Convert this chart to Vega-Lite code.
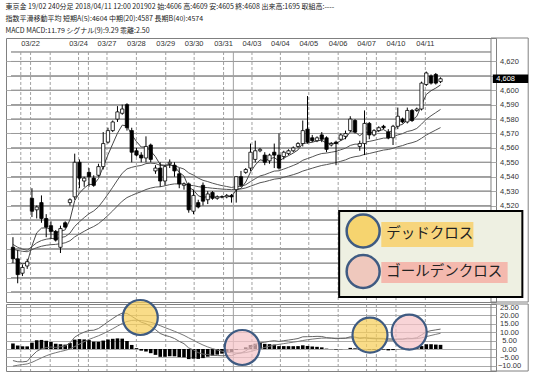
{
"$schema":"https://vega.github.io/schema/vega-lite/v6.json",
"padding":{"left":5,"top":3,"right":0,"bottom":0},
"background":"white",
"bounds":"flush",
"title":{"text":["東京金 19/02 240分足 2018/04/11 12:00 201902 始:4606 高:4609 安:4605 終:4608 出来高:1695 取組高:----","指数平滑移動平均 短期A(5):4604 中期(20):4587 長期B(40):4574","MACD MACD:11.79 シグナル(9):9.29 乖離:2.50"],"anchor":"start","fontSize":7.0,"lineHeight":12,"font":"Noto Sans CJK JP","fontWeight":"normal","color":"#222","offset":3},
"datasets":{
"levels":[{"v":4460},{"v":4470},{"v":4480},{"v":4490},{"v":4500},{"v":4510},{"v":4520},{"v":4530},{"v":4540},{"v":4550},{"v":4560},{"v":4570},{"v":4580},{"v":4590},{"v":4600},{"v":4610},{"v":4620},{"v":4626.6}],
"days":[
{"pos":1.65,"label":"","month":false},
{"pos":3.71,"label":"03/22","month":false},
{"pos":7.84,"label":"","month":false},
{"pos":13.81,"label":"03/24","month":false},
{"pos":15.88,"label":"","month":false},
{"pos":19.79,"label":"03/27","month":false},
{"pos":25.98,"label":"03/28","month":false},
{"pos":32.16,"label":"03/29","month":false},
{"pos":38.14,"label":"03/30","month":false},
{"pos":44.33,"label":"03/31","month":false},
{"pos":46.39,"label":"","month":true},
{"pos":50.31,"label":"04/03","month":false},
{"pos":56.29,"label":"04/04","month":false},
{"pos":62.27,"label":"04/05","month":false},
{"pos":68.45,"label":"04/06","month":false},
{"pos":74.43,"label":"04/07","month":false},
{"pos":76.49,"label":"","month":false},
{"pos":80.62,"label":"04/10","month":false},
{"pos":86.8,"label":"04/11","month":false}
],
"crosses":[
{"pos":26.8,"val":18.75,"kind":"dead"},
{"pos":48.25,"val":0.9,"kind":"golden"},
{"pos":75.15,"val":8.3,"kind":"dead"},
{"pos":83.4,"val":10.1,"kind":"golden"}
],
"bars":[
{"i":0,"o":4491,"h":4498,"l":4480,"c":4483,"e5":4485.0,"e20":4493.0,"e40":4489.7,"m":-6.88,"s":-10.18,"d":3.30},
{"i":1,"o":4483,"h":4489,"l":4466,"c":4472,"e5":4480.7,"e20":4491.0,"e40":4488.8,"m":-7.58,"s":-9.66,"d":2.08},
{"i":2,"o":4473,"h":4479,"l":4471,"c":4477,"e5":4479.5,"e20":4489.7,"e40":4488.2,"m":-7.64,"s":-9.26,"d":1.62},
{"i":3,"o":4478,"h":4483,"l":4476,"c":4481,"e5":4480.0,"e20":4488.9,"e40":4487.9,"m":-7.29,"s":-8.87,"d":1.58},
{"i":4,"o":4525,"h":4532,"l":4512,"c":4516,"e5":4492.0,"e20":4491.5,"e40":4489.3,"m":-4.13,"s":-7.92,"d":3.79},
{"i":5,"o":4517,"h":4520,"l":4511,"c":4519,"e5":4501.0,"e20":4494.1,"e40":4490.7,"m":-1.38,"s":-6.61,"d":5.23},
{"i":6,"o":4522,"h":4527,"l":4508,"c":4511,"e5":4504.3,"e20":4495.7,"e40":4491.7,"m":0.15,"s":-5.26,"d":5.41},
{"i":7,"o":4511,"h":4514,"l":4498,"c":4505,"e5":4504.5,"e20":4496.6,"e40":4492.4,"m":0.88,"s":-4.03,"d":4.91},
{"i":8,"o":4506,"h":4509,"l":4497,"c":4502,"e5":4503.7,"e20":4497.1,"e40":4492.8,"m":1.20,"s":-2.98,"d":4.18},
{"i":9,"o":4502,"h":4503,"l":4495,"c":4496,"e5":4501.1,"e20":4497.0,"e40":4493.0,"m":0.96,"s":-2.19,"d":3.15},
{"i":10,"o":4491,"h":4506,"l":4487,"c":4504,"e5":4502.1,"e20":4497.7,"e40":4493.5,"m":1.40,"s":-1.47,"d":2.87},
{"i":11,"o":4508,"h":4509,"l":4504,"c":4505,"e5":4503.1,"e20":4498.4,"e40":4494.1,"m":1.80,"s":-0.82,"d":2.62},
{"i":12,"o":4522,"h":4525,"l":4520,"c":4524,"e5":4510.1,"e20":4500.8,"e40":4495.5,"m":3.61,"s":0.07,"d":3.54},
{"i":13,"o":4526,"h":4556,"l":4524,"c":4550,"e5":4523.4,"e20":4505.5,"e40":4498.2,"m":7.07,"s":1.47,"d":5.60},
{"i":14,"o":4550,"h":4552,"l":4532,"c":4539,"e5":4528.6,"e20":4508.7,"e40":4500.2,"m":8.82,"s":2.94,"d":5.88},
{"i":15,"o":4537,"h":4540,"l":4533,"c":4539,"e5":4532.1,"e20":4511.6,"e40":4502.1,"m":10.08,"s":4.37,"d":5.71},
{"i":16,"o":4543,"h":4546,"l":4533,"c":4540,"e5":4534.7,"e20":4514.3,"e40":4503.9,"m":11.04,"s":5.70,"d":5.34},
{"i":17,"o":4539,"h":4541,"l":4533,"c":4534,"e5":4534.5,"e20":4516.2,"e40":4505.4,"m":11.19,"s":6.80,"d":4.39},
{"i":18,"o":4541,"h":4549,"l":4540,"c":4547,"e5":4538.7,"e20":4519.1,"e40":4507.4,"m":12.21,"s":7.88,"d":4.33},
{"i":19,"o":4547,"h":4571,"l":4545,"c":4563,"e5":4546.8,"e20":4523.3,"e40":4510.1,"m":14.15,"s":9.13,"d":5.02},
{"i":20,"o":4564,"h":4574,"l":4563,"c":4572,"e5":4555.2,"e20":4527.9,"e40":4513.1,"m":16.23,"s":10.55,"d":5.68},
{"i":21,"o":4572,"h":4579,"l":4571,"c":4578,"e5":4562.8,"e20":4532.7,"e40":4516.3,"m":18.15,"s":12.07,"d":6.08},
{"i":22,"o":4580,"h":4589,"l":4578,"c":4585,"e5":4570.2,"e20":4537.7,"e40":4519.7,"m":20.00,"s":13.66,"d":6.34},
{"i":23,"o":4584,"h":4590,"l":4583,"c":4587,"e5":4575.8,"e20":4542.4,"e40":4523.0,"m":21.39,"s":15.21,"d":6.18},
{"i":24,"o":4590,"h":4591,"l":4572,"c":4574,"e5":4575.2,"e20":4545.4,"e40":4525.5,"m":21.20,"s":16.41,"d":4.79},
{"i":25,"o":4572,"h":4574,"l":4550,"c":4557,"e5":4569.1,"e20":4546.5,"e40":4527.0,"m":19.45,"s":17.02,"d":2.43},
{"i":26,"o":4558,"h":4560,"l":4554,"c":4555,"e5":4564.4,"e20":4547.3,"e40":4528.4,"m":17.70,"s":17.16,"d":0.54},
{"i":27,"o":4555,"h":4557,"l":4550,"c":4553,"e5":4560.6,"e20":4547.8,"e40":4529.6,"m":15.96,"s":16.92,"d":-0.96},
{"i":28,"o":4553,"h":4568,"l":4550,"c":4561,"e5":4560.7,"e20":4549.1,"e40":4531.1,"m":15.06,"s":16.55,"d":-1.49},
{"i":29,"o":4562,"h":4563,"l":4550,"c":4552,"e5":4557.8,"e20":4549.4,"e40":4532.1,"m":13.46,"s":15.93,"d":-2.47},
{"i":30,"o":4544,"h":4548,"l":4542,"c":4546,"e5":4553.9,"e20":4549.1,"e40":4532.8,"m":11.58,"s":15.06,"d":-3.48},
{"i":31,"o":4546,"h":4550,"l":4533,"c":4537,"e5":4548.3,"e20":4547.9,"e40":4533.0,"m":9.25,"s":13.90,"d":-4.65},
{"i":32,"o":4537,"h":4548,"l":4534,"c":4547,"e5":4547.9,"e20":4547.8,"e40":4533.7,"m":8.12,"s":12.74,"d":-4.62},
{"i":33,"o":4549,"h":4552,"l":4546,"c":4550,"e5":4548.6,"e20":4548.0,"e40":4534.5,"m":7.38,"s":11.67,"d":-4.29},
{"i":34,"o":4548,"h":4550,"l":4540,"c":4544,"e5":4547.1,"e20":4547.6,"e40":4535.0,"m":6.24,"s":10.58,"d":-4.34},
{"i":35,"o":4542,"h":4546,"l":4532,"c":4535,"e5":4543.1,"e20":4546.4,"e40":4535.0,"m":4.56,"s":9.38,"d":-4.82},
{"i":36,"o":4534,"h":4536,"l":4531,"c":4535,"e5":4540.4,"e20":4545.3,"e40":4535.0,"m":3.19,"s":8.14,"d":-4.95},
{"i":37,"o":4535,"h":4536,"l":4515,"c":4517,"e5":4532.6,"e20":4542.6,"e40":4534.1,"m":0.64,"s":6.64,"d":-6.00},
{"i":38,"o":4516,"h":4531,"l":4514,"c":4527,"e5":4530.7,"e20":4541.1,"e40":4533.8,"m":-0.56,"s":5.20,"d":-5.76},
{"i":39,"o":4522,"h":4524,"l":4518,"c":4519,"e5":4526.8,"e20":4539.0,"e40":4533.1,"m":-2.14,"s":3.73,"d":-5.87},
{"i":40,"o":4534,"h":4536,"l":4520,"c":4523,"e5":4525.5,"e20":4537.5,"e40":4532.6,"m":-3.03,"s":2.38,"d":-5.41},
{"i":41,"o":4524,"h":4530,"l":4521,"c":4528,"e5":4526.3,"e20":4536.6,"e40":4532.4,"m":-3.29,"s":1.25,"d":-4.54},
{"i":42,"o":4529,"h":4530,"l":4524,"c":4525,"e5":4525.9,"e20":4535.5,"e40":4532.0,"m":-3.70,"s":0.26,"d":-3.96},
{"i":43,"o":4525,"h":4527,"l":4524,"c":4526,"e5":4525.9,"e20":4534.6,"e40":4531.7,"m":-3.90,"s":-0.57,"d":-3.33},
{"i":44,"o":4526,"h":4527,"l":4525,"c":4526,"e5":4526.0,"e20":4533.8,"e40":4531.4,"m":-4.01,"s":-1.26,"d":-2.75},
{"i":45,"o":4526,"h":4528,"l":4525,"c":4527,"e5":4526.3,"e20":4533.2,"e40":4531.2,"m":-3.97,"s":-1.80,"d":-2.17},
{"i":46,"o":4527,"h":4528,"l":4522,"c":4526,"e5":4526.2,"e20":4532.5,"e40":4531.0,"m":-3.98,"s":-2.24,"d":-1.74},
{"i":47,"o":4531,"h":4540,"l":4522,"c":4540,"e5":4530.8,"e20":4533.2,"e40":4531.4,"m":-2.82,"s":-2.36,"d":-0.46},
{"i":48,"o":4540,"h":4544,"l":4533,"c":4534,"e5":4531.9,"e20":4533.3,"e40":4531.5,"m":-2.36,"s":-2.36,"d":0.00},
{"i":49,"o":4543,"h":4546,"l":4542,"c":4545,"e5":4536.3,"e20":4534.4,"e40":4532.2,"m":-1.10,"s":-2.11,"d":1.01},
{"i":50,"o":4546,"h":4563,"l":4544,"c":4557,"e5":4543.2,"e20":4536.6,"e40":4533.4,"m":0.87,"s":-1.51,"d":2.38},
{"i":51,"o":4552,"h":4565,"l":4550,"c":4558,"e5":4548.1,"e20":4538.6,"e40":4534.6,"m":2.47,"s":-0.71,"d":3.18},
{"i":52,"o":4558,"h":4560,"l":4557,"c":4559,"e5":4551.7,"e20":4540.5,"e40":4535.8,"m":3.78,"s":0.19,"d":3.59},
{"i":53,"o":4555,"h":4557,"l":4548,"c":4550,"e5":4551.1,"e20":4541.4,"e40":4536.5,"m":4.04,"s":0.96,"d":3.08},
{"i":54,"o":4551,"h":4556,"l":4549,"c":4555,"e5":4552.4,"e20":4542.7,"e40":4537.4,"m":4.60,"s":1.69,"d":2.91},
{"i":55,"o":4557,"h":4563,"l":4546,"c":4555,"e5":4553.3,"e20":4543.9,"e40":4538.3,"m":4.98,"s":2.35,"d":2.63},
{"i":56,"o":4555,"h":4570,"l":4545,"c":4546,"e5":4550.9,"e20":4544.1,"e40":4538.7,"m":4.51,"s":2.78,"d":1.73},
{"i":57,"o":4554,"h":4558,"l":4552,"c":4557,"e5":4552.9,"e20":4545.3,"e40":4539.6,"m":4.97,"s":3.22,"d":1.75},
{"i":58,"o":4556,"h":4559,"l":4555,"c":4558,"e5":4554.6,"e20":4546.5,"e40":4540.5,"m":5.36,"s":3.65,"d":1.71},
{"i":59,"o":4558,"h":4561,"l":4557,"c":4560,"e5":4556.4,"e20":4547.8,"e40":4541.4,"m":5.76,"s":4.07,"d":1.69},
{"i":60,"o":4561,"h":4564,"l":4560,"c":4563,"e5":4558.6,"e20":4549.2,"e40":4542.5,"m":6.25,"s":4.51,"d":1.74},
{"i":61,"o":4563,"h":4579,"l":4561,"c":4572,"e5":4563.1,"e20":4551.4,"e40":4543.9,"m":7.27,"s":5.06,"d":2.21},
{"i":62,"o":4573,"h":4596,"l":4563,"c":4564,"e5":4563.4,"e20":4552.6,"e40":4544.9,"m":7.35,"s":5.52,"d":1.83},
{"i":63,"o":4567,"h":4569,"l":4564,"c":4565,"e5":4563.9,"e20":4553.8,"e40":4545.9,"m":7.41,"s":5.90,"d":1.51},
{"i":64,"o":4565,"h":4568,"l":4564,"c":4567,"e5":4564.9,"e20":4555.1,"e40":4546.9,"m":7.54,"s":6.23,"d":1.31},
{"i":65,"o":4569,"h":4571,"l":4564,"c":4566,"e5":4565.3,"e20":4556.1,"e40":4547.8,"m":7.47,"s":6.48,"d":0.99},
{"i":66,"o":4567,"h":4568,"l":4557,"c":4559,"e5":4563.2,"e20":4556.4,"e40":4548.4,"m":6.77,"s":6.54,"d":0.23},
{"i":67,"o":4562,"h":4564,"l":4561,"c":4563,"e5":4563.2,"e20":4557.0,"e40":4549.1,"m":6.47,"s":6.53,"d":-0.06},
{"i":68,"o":4564,"h":4565,"l":4548,"c":4563,"e5":4563.1,"e20":4557.6,"e40":4549.8,"m":6.16,"s":6.46,"d":-0.30},
{"i":69,"o":4566,"h":4570,"l":4565,"c":4569,"e5":4565.1,"e20":4558.7,"e40":4550.7,"m":6.32,"s":6.43,"d":-0.11},
{"i":70,"o":4568,"h":4572,"l":4566,"c":4570,"e5":4566.7,"e20":4559.8,"e40":4551.7,"m":6.45,"s":6.43,"d":0.02},
{"i":71,"o":4572,"h":4582,"l":4571,"c":4580,"e5":4571.1,"e20":4561.7,"e40":4553.1,"m":7.28,"s":6.60,"d":0.68},
{"i":72,"o":4579,"h":4580,"l":4570,"c":4571,"e5":4571.1,"e20":4562.6,"e40":4553.9,"m":7.13,"s":6.71,"d":0.42},
{"i":73,"o":4561,"h":4565,"l":4558,"c":4563,"e5":4568.4,"e20":4562.6,"e40":4554.4,"m":6.30,"s":6.63,"d":-0.33},
{"i":74,"o":4563,"h":4586,"l":4555,"c":4577,"e5":4571.3,"e20":4564.0,"e40":4555.5,"m":6.69,"s":6.64,"d":0.05},
{"i":75,"o":4577,"h":4578,"l":4566,"c":4569,"e5":4570.5,"e20":4564.5,"e40":4556.1,"m":6.28,"s":6.57,"d":-0.29},
{"i":76,"o":4569,"h":4573,"l":4568,"c":4572,"e5":4571.0,"e20":4565.2,"e40":4556.9,"m":6.13,"s":6.48,"d":-0.35},
{"i":77,"o":4572,"h":4575,"l":4571,"c":4574,"e5":4572.0,"e20":4566.0,"e40":4557.7,"m":6.10,"s":6.40,"d":-0.30},
{"i":78,"o":4575,"h":4576,"l":4573,"c":4574,"e5":4572.7,"e20":4566.8,"e40":4558.5,"m":6.01,"s":6.32,"d":-0.31},
{"i":79,"o":4571,"h":4573,"l":4566,"c":4567,"e5":4570.8,"e20":4566.8,"e40":4558.9,"m":5.31,"s":6.12,"d":-0.81},
{"i":80,"o":4567,"h":4576,"l":4562,"c":4575,"e5":4572.2,"e20":4567.6,"e40":4559.7,"m":5.33,"s":5.96,"d":-0.63},
{"i":81,"o":4575,"h":4588,"l":4573,"c":4582,"e5":4575.5,"e20":4569.0,"e40":4560.8,"m":5.86,"s":5.94,"d":-0.08},
{"i":82,"o":4580,"h":4581,"l":4577,"c":4578,"e5":4576.3,"e20":4569.9,"e40":4561.6,"m":5.88,"s":5.93,"d":-0.05},
{"i":83,"o":4578,"h":4588,"l":4577,"c":4586,"e5":4579.5,"e20":4571.4,"e40":4562.8,"m":6.46,"s":6.04,"d":0.42},
{"i":84,"o":4586,"h":4587,"l":4578,"c":4579,"e5":4579.3,"e20":4572.1,"e40":4563.6,"m":6.29,"s":6.09,"d":0.20},
{"i":85,"o":4586,"h":4588,"l":4585,"c":4587,"e5":4581.9,"e20":4573.5,"e40":4564.7,"m":6.72,"s":6.22,"d":0.50},
{"i":86,"o":4587,"h":4606,"l":4586,"c":4605,"e5":4589.6,"e20":4576.5,"e40":4566.7,"m":8.42,"s":6.66,"d":1.76},
{"i":87,"o":4604,"h":4613,"l":4603,"c":4612,"e5":4597.1,"e20":4579.9,"e40":4568.9,"m":10.21,"s":7.37,"d":2.84},
{"i":88,"o":4610,"h":4611,"l":4604,"c":4605,"e5":4599.7,"e20":4582.3,"e40":4570.7,"m":10.94,"s":8.08,"d":2.86},
{"i":89,"o":4611,"h":4612,"l":4604,"c":4605,"e5":4601.5,"e20":4584.5,"e40":4572.4,"m":11.39,"s":8.74,"d":2.65},
{"i":90,"o":4606,"h":4609,"l":4605,"c":4608,"e5":4603.7,"e20":4586.7,"e40":4574.1,"m":11.85,"s":9.36,"d":2.49}
]
},
"spacing":2,
"vconcat":[
{
"width":490,"height":264,
"layer":[
{"data":{"name":"levels"},"mark":{"type":"rect","fill":"transparent","stroke":"#9a9a9a","strokeWidth":1,"clip":false},
 "encoding":{"x":{"datum":-0.41,"type":"quantitative","scale":{"domain":[-0.41,100.62],"nice":false,"zero":false},"axis":null},"x2":{"datum":100.62},
 "y":{"field":"v","type":"quantitative","scale":{"domain":[4453,4636.3],"nice":false,"zero":false},"axis":{"orient":"right","values":[4460,4470,4480,4490,4500,4510,4520,4530,4540,4550,4560,4570,4580,4590,4600,4610,4620],"labelExpr":"datum.value < 4515 || datum.value == 4610 ? '' : format(datum.value, ',.0f')","grid":true,"title":null}},"y2":{"field":"v"}}},
{"data":{"name":"days"},"transform":[{"filter":"!datum.month"}],"mark":{"type":"rule","color":"#a0a0a0","strokeDash":[3,2],"strokeWidth":1},
 "encoding":{"x":{"field":"pos","type":"quantitative","scale":{"domain":[-0.41,100.62],"nice":false,"zero":false},"axis":null},
 "y":{"datum":4626.6,"type":"quantitative","scale":{"domain":[4453,4636.3],"nice":false,"zero":false},"axis":{"orient":"right","values":[4460,4470,4480,4490,4500,4510,4520,4530,4540,4550,4560,4570,4580,4590,4600,4610,4620],"labelExpr":"datum.value < 4515 || datum.value == 4610 ? '' : format(datum.value, ',.0f')","grid":true,"title":null}},"y2":{"datum":4453}}},
{"data":{"name":"days"},"transform":[{"filter":"datum.month"}],"mark":{"type":"rule","color":"#a0a0a0","strokeWidth":1},
 "encoding":{"x":{"field":"pos","type":"quantitative","scale":{"domain":[-0.41,100.62],"nice":false,"zero":false},"axis":null},
 "y":{"datum":4626.6,"type":"quantitative","scale":{"domain":[4453,4636.3],"nice":false,"zero":false},"axis":{"orient":"right","values":[4460,4470,4480,4490,4500,4510,4520,4530,4540,4550,4560,4570,4580,4590,4600,4610,4620],"labelExpr":"datum.value < 4515 || datum.value == 4610 ? '' : format(datum.value, ',.0f')","grid":true,"title":null}},"y2":{"datum":4453}}},
{"data":{"name":"days"},"transform":[{"filter":"datum.label != ''"}],"mark":{"type":"text","fontSize":7.5,"font":"Liberation Sans","color":"#333","baseline":"middle","align":"center"},
 "encoding":{"x":{"field":"pos","type":"quantitative","scale":{"domain":[-0.41,100.62],"nice":false,"zero":false},"axis":null},
 "y":{"datum":4631.8,"type":"quantitative","scale":{"domain":[4453,4636.3],"nice":false,"zero":false},"axis":{"orient":"right","values":[4460,4470,4480,4490,4500,4510,4520,4530,4540,4550,4560,4570,4580,4590,4600,4610,4620],"labelExpr":"datum.value < 4515 || datum.value == 4610 ? '' : format(datum.value, ',.0f')","grid":true,"title":null}},"text":{"field":"label"}}},
{"data":{"name":"bars"},"mark":{"type":"line","color":"#555","strokeWidth":1},
 "encoding":{"x":{"field":"i","type":"quantitative","scale":{"domain":[-0.41,100.62],"nice":false,"zero":false},"axis":null},
 "y":{"field":"e40","type":"quantitative","scale":{"domain":[4453,4636.3],"nice":false,"zero":false},"axis":{"orient":"right","values":[4460,4470,4480,4490,4500,4510,4520,4530,4540,4550,4560,4570,4580,4590,4600,4610,4620],"labelExpr":"datum.value < 4515 || datum.value == 4610 ? '' : format(datum.value, ',.0f')","grid":true,"title":null}}}},
{"data":{"name":"bars"},"mark":{"type":"line","color":"#555","strokeWidth":1},
 "encoding":{"x":{"field":"i","type":"quantitative","scale":{"domain":[-0.41,100.62],"nice":false,"zero":false},"axis":null},
 "y":{"field":"e20","type":"quantitative","scale":{"domain":[4453,4636.3],"nice":false,"zero":false},"axis":{"orient":"right","values":[4460,4470,4480,4490,4500,4510,4520,4530,4540,4550,4560,4570,4580,4590,4600,4610,4620],"labelExpr":"datum.value < 4515 || datum.value == 4610 ? '' : format(datum.value, ',.0f')","grid":true,"title":null}}}},
{"data":{"name":"bars"},"mark":{"type":"line","color":"#444","strokeWidth":1},
 "encoding":{"x":{"field":"i","type":"quantitative","scale":{"domain":[-0.41,100.62],"nice":false,"zero":false},"axis":null},
 "y":{"field":"e5","type":"quantitative","scale":{"domain":[4453,4636.3],"nice":false,"zero":false},"axis":{"orient":"right","values":[4460,4470,4480,4490,4500,4510,4520,4530,4540,4550,4560,4570,4580,4590,4600,4610,4620],"labelExpr":"datum.value < 4515 || datum.value == 4610 ? '' : format(datum.value, ',.0f')","grid":true,"title":null}}}},
{"data":{"name":"bars"},"mark":{"type":"rule","color":"#000","strokeWidth":1},
 "encoding":{"x":{"field":"i","type":"quantitative","scale":{"domain":[-0.41,100.62],"nice":false,"zero":false},"axis":null},
 "y":{"field":"l","type":"quantitative","scale":{"domain":[4453,4636.3],"nice":false,"zero":false},"axis":{"orient":"right","values":[4460,4470,4480,4490,4500,4510,4520,4530,4540,4550,4560,4570,4580,4590,4600,4610,4620],"labelExpr":"datum.value < 4515 || datum.value == 4610 ? '' : format(datum.value, ',.0f')","grid":true,"title":null}},"y2":{"field":"h"}}},
{"data":{"name":"bars"},"mark":{"type":"bar","size":3.3,"stroke":"#000","strokeWidth":0.8},
 "encoding":{"x":{"field":"i","type":"quantitative","scale":{"domain":[-0.41,100.62],"nice":false,"zero":false},"axis":null},
 "y":{"field":"o","type":"quantitative","scale":{"domain":[4453,4636.3],"nice":false,"zero":false},"axis":{"orient":"right","values":[4460,4470,4480,4490,4500,4510,4520,4530,4540,4550,4560,4570,4580,4590,4600,4610,4620],"labelExpr":"datum.value < 4515 || datum.value == 4610 ? '' : format(datum.value, ',.0f')","grid":true,"title":null}},
 "y2":{"field":"c"},
 "fill":{"condition":{"test":"datum.c >= datum.o","value":"#ffffff"},"value":"#000000"}}},
{"data":{"values":[{}]},"mark":{"type":"rect","fill":"transparent","stroke":"#808080","strokeWidth":1,"clip":false},
 "encoding":{"x":{"datum":100.62,"type":"quantitative","scale":{"domain":[-0.41,100.62],"nice":false,"zero":false},"axis":null},"x2":{"datum":108.45},
 "y":{"datum":4453,"type":"quantitative","scale":{"domain":[4453,4636.3],"nice":false,"zero":false},"axis":{"orient":"right","values":[4460,4470,4480,4490,4500,4510,4520,4530,4540,4550,4560,4570,4580,4590,4600,4610,4620],"labelExpr":"datum.value < 4515 || datum.value == 4610 ? '' : format(datum.value, ',.0f')","grid":true,"title":null}},"y2":{"datum":4636.3}}},
{"data":{"values":[{}]},"mark":{"type":"rect","fill":"#000","clip":false},
 "encoding":{"x":{"datum":101.0,"type":"quantitative","scale":{"domain":[-0.41,100.62],"nice":false,"zero":false},"axis":null},"x2":{"datum":108.45},
 "y":{"datum":4605,"type":"quantitative","scale":{"domain":[4453,4636.3],"nice":false,"zero":false},"axis":{"orient":"right","values":[4460,4470,4480,4490,4500,4510,4520,4530,4540,4550,4560,4570,4580,4590,4600,4610,4620],"labelExpr":"datum.value < 4515 || datum.value == 4610 ? '' : format(datum.value, ',.0f')","grid":true,"title":null}},"y2":{"datum":4611}}},
{"data":{"values":[{}]},"mark":{"type":"text","text":"4,608","color":"#fff","fontSize":7.5,"font":"Liberation Sans","align":"center","baseline":"middle","clip":false},
 "encoding":{"x":{"datum":103.7,"type":"quantitative","scale":{"domain":[-0.41,100.62],"nice":false,"zero":false},"axis":null},
 "y":{"datum":4608,"type":"quantitative","scale":{"domain":[4453,4636.3],"nice":false,"zero":false},"axis":{"orient":"right","values":[4460,4470,4480,4490,4500,4510,4520,4530,4540,4550,4560,4570,4580,4590,4600,4610,4620],"labelExpr":"datum.value < 4515 || datum.value == 4610 ? '' : format(datum.value, ',.0f')","grid":true,"title":null}}}},
{"data":{"values":[{}]},"mark":{"type":"rect","fill":"#eef0e2","stroke":"#000","strokeWidth":2,"clip":false},
 "encoding":{"x":{"datum":68.66,"type":"quantitative","scale":{"domain":[-0.41,100.62],"nice":false,"zero":false},"axis":null},"x2":{"datum":107.22},
 "y":{"datum":4456.5,"type":"quantitative","scale":{"domain":[4453,4636.3],"nice":false,"zero":false},"axis":{"orient":"right","values":[4460,4470,4480,4490,4500,4510,4520,4530,4540,4550,4560,4570,4580,4590,4600,4610,4620],"labelExpr":"datum.value < 4515 || datum.value == 4610 ? '' : format(datum.value, ',.0f')","grid":true,"title":null}},"y2":{"datum":4516.2}}},
{"data":{"values":[{}]},"mark":{"type":"rect","fill":"#f7d57c","clip":false},
 "encoding":{"x":{"datum":77.53,"type":"quantitative","scale":{"domain":[-0.41,100.62],"nice":false,"zero":false},"axis":null},"x2":{"datum":96.91},
 "y":{"datum":4491.2,"type":"quantitative","scale":{"domain":[4453,4636.3],"nice":false,"zero":false},"axis":{"orient":"right","values":[4460,4470,4480,4490,4500,4510,4520,4530,4540,4550,4560,4570,4580,4590,4600,4610,4620],"labelExpr":"datum.value < 4515 || datum.value == 4610 ? '' : format(datum.value, ',.0f')","grid":true,"title":null}},"y2":{"datum":4508.5}}},
{"data":{"values":[{}]},"mark":{"type":"rect","fill":"#f4b9ae","clip":false},
 "encoding":{"x":{"datum":77.53,"type":"quantitative","scale":{"domain":[-0.41,100.62],"nice":false,"zero":false},"axis":null},"x2":{"datum":104.12},
 "y":{"datum":4466.2,"type":"quantitative","scale":{"domain":[4453,4636.3],"nice":false,"zero":false},"axis":{"orient":"right","values":[4460,4470,4480,4490,4500,4510,4520,4530,4540,4550,4560,4570,4580,4590,4600,4610,4620],"labelExpr":"datum.value < 4515 || datum.value == 4610 ? '' : format(datum.value, ',.0f')","grid":true,"title":null}},"y2":{"datum":4480.8}}},
{"data":{"values":[{}]},"mark":{"type":"point","shape":"circle","filled":true,"size":1089,"fill":"#f6d46f","fillOpacity":1,"stroke":"#3f5b82","strokeWidth":2.5,"opacity":1},
 "encoding":{"x":{"datum":73.71,"type":"quantitative","scale":{"domain":[-0.41,100.62],"nice":false,"zero":false},"axis":null},
 "y":{"datum":4502.3,"type":"quantitative","scale":{"domain":[4453,4636.3],"nice":false,"zero":false},"axis":{"orient":"right","values":[4460,4470,4480,4490,4500,4510,4520,4530,4540,4550,4560,4570,4580,4590,4600,4610,4620],"labelExpr":"datum.value < 4515 || datum.value == 4610 ? '' : format(datum.value, ',.0f')","grid":true,"title":null}}}},
{"data":{"values":[{}]},"mark":{"type":"point","shape":"circle","filled":true,"size":1089,"fill":"#efc8bd","fillOpacity":1,"stroke":"#3f5b82","strokeWidth":2.5,"opacity":1},
 "encoding":{"x":{"datum":73.71,"type":"quantitative","scale":{"domain":[-0.41,100.62],"nice":false,"zero":false},"axis":null},
 "y":{"datum":4474.2,"type":"quantitative","scale":{"domain":[4453,4636.3],"nice":false,"zero":false},"axis":{"orient":"right","values":[4460,4470,4480,4490,4500,4510,4520,4530,4540,4550,4560,4570,4580,4590,4600,4610,4620],"labelExpr":"datum.value < 4515 || datum.value == 4610 ? '' : format(datum.value, ',.0f')","grid":true,"title":null}}}},
{"data":{"values":[{}]},"mark":{"type":"text","text":"デッドクロス","fontSize":14.5,"font":"Noto Sans CJK JP","color":"#222","align":"left","baseline":"middle","clip":false},
 "encoding":{"x":{"datum":78.56,"type":"quantitative","scale":{"domain":[-0.41,100.62],"nice":false,"zero":false},"axis":null},
 "y":{"datum":4500.0,"type":"quantitative","scale":{"domain":[4453,4636.3],"nice":false,"zero":false},"axis":{"orient":"right","values":[4460,4470,4480,4490,4500,4510,4520,4530,4540,4550,4560,4570,4580,4590,4600,4610,4620],"labelExpr":"datum.value < 4515 || datum.value == 4610 ? '' : format(datum.value, ',.0f')","grid":true,"title":null}}}},
{"data":{"values":[{}]},"mark":{"type":"text","text":"ゴールデンクロス","fontSize":14.5,"font":"Noto Sans CJK JP","color":"#222","align":"left","baseline":"middle","clip":false},
 "encoding":{"x":{"datum":78.56,"type":"quantitative","scale":{"domain":[-0.41,100.62],"nice":false,"zero":false},"axis":null},
 "y":{"datum":4473.5,"type":"quantitative","scale":{"domain":[4453,4636.3],"nice":false,"zero":false},"axis":{"orient":"right","values":[4460,4470,4480,4490,4500,4510,4520,4530,4540,4550,4560,4570,4580,4590,4600,4610,4620],"labelExpr":"datum.value < 4515 || datum.value == 4610 ? '' : format(datum.value, ',.0f')","grid":true,"title":null}}}}
]
},
{
"width":490,"height":67,
"layer":[
{"data":{"name":"days"},"transform":[{"filter":"!datum.month"}],"mark":{"type":"rule","color":"#a0a0a0","strokeDash":[3,2],"strokeWidth":1},
 "encoding":{"x":{"field":"pos","type":"quantitative","scale":{"domain":[-0.41,100.62],"nice":false,"zero":false},"axis":null}}},
{"data":{"name":"days"},"transform":[{"filter":"datum.month"}],"mark":{"type":"rule","color":"#a0a0a0","strokeWidth":1},
 "encoding":{"x":{"field":"pos","type":"quantitative","scale":{"domain":[-0.41,100.62],"nice":false,"zero":false},"axis":null}}},
{"data":{"name":"bars"},"mark":{"type":"bar","size":3.6,"color":"#000"},
 "encoding":{"x":{"field":"i","type":"quantitative","scale":{"domain":[-0.41,100.62],"nice":false,"zero":false},"axis":null},
 "y":{"field":"d","type":"quantitative","scale":{"domain":[-13.08,26.8],"nice":false,"zero":false},"axis":{"orient":"right","values":[-10,-5,0,5,10,15,20,25],"format":".2f","grid":true,"title":null}},
 "y2":{"datum":0}}},
{"data":{"name":"bars"},"mark":{"type":"line","color":"#777","strokeWidth":1},
 "encoding":{"x":{"field":"i","type":"quantitative","scale":{"domain":[-0.41,100.62],"nice":false,"zero":false},"axis":null},
 "y":{"field":"s","type":"quantitative","scale":{"domain":[-13.08,26.8],"nice":false,"zero":false},"axis":{"orient":"right","values":[-10,-5,0,5,10,15,20,25],"format":".2f","grid":true,"title":null}}}},
{"data":{"name":"bars"},"mark":{"type":"line","color":"#666","strokeWidth":1},
 "encoding":{"x":{"field":"i","type":"quantitative","scale":{"domain":[-0.41,100.62],"nice":false,"zero":false},"axis":null},
 "y":{"field":"m","type":"quantitative","scale":{"domain":[-13.08,26.8],"nice":false,"zero":false},"axis":{"orient":"right","values":[-10,-5,0,5,10,15,20,25],"format":".2f","grid":true,"title":null}}}},
{"data":{"values":[{}]},"mark":{"type":"rect","fill":"transparent","stroke":"#808080","strokeWidth":1,"clip":false},
 "encoding":{"x":{"datum":100.62,"type":"quantitative","scale":{"domain":[-0.41,100.62],"nice":false,"zero":false},"axis":null},"x2":{"datum":108.45},
 "y":{"datum":-13.08,"type":"quantitative","scale":{"domain":[-13.08,26.8],"nice":false,"zero":false},"axis":{"orient":"right","values":[-10,-5,0,5,10,15,20,25],"format":".2f","grid":true,"title":null}},"y2":{"datum":26.8}}},
{"data":{"name":"crosses"},"mark":{"type":"point","shape":"circle","filled":true,"size":1225,"fillOpacity":0.72,"stroke":"#3f5b82","strokeWidth":2.2,"opacity":1},
 "encoding":{"x":{"field":"pos","type":"quantitative","scale":{"domain":[-0.41,100.62],"nice":false,"zero":false},"axis":null},
 "y":{"field":"val","type":"quantitative","scale":{"domain":[-13.08,26.8],"nice":false,"zero":false},"axis":{"orient":"right","values":[-10,-5,0,5,10,15,20,25],"format":".2f","grid":true,"title":null}},
 "fill":{"field":"kind","type":"nominal","scale":{"domain":["dead","golden"],"range":["#f6cf5a","#f5c3c8"]},"legend":null}}}
]
}
],
"config":{"view":{"stroke":"#808080","strokeWidth":1},"font":"Liberation Sans",
 "axis":{"gridColor":"#aaaaaa","gridWidth":1,"domain":false,"ticks":false,"tickSize":0,"labelAlign":"center","labelPadding":13,"labelFontSize":7.5,"labelFont":"Liberation Sans","labelColor":"#333","zindex":0}}
}
